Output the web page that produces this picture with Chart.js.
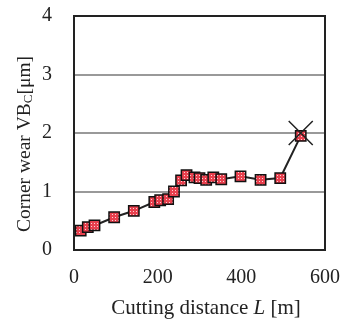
<!DOCTYPE html>
<html>
<head>
<meta charset="utf-8">
<script src="https://cdn.jsdelivr.net/npm/chart.js@4"></script>
<style>
  html, body { margin: 0; padding: 0; background: #fff; }
  #wrap { width: 340px; height: 322px; }
</style>
</head>
<body>
<div id="wrap"><canvas id="wearChart" width="340" height="322"></canvas></div>
<script>
const distances = [16, 33, 49, 96, 143, 192, 206, 225, 239, 256, 269, 288, 300, 316, 333, 352, 398, 446, 493, 542];
const wear = [0.33, 0.39, 0.42, 0.56, 0.67, 0.82, 0.85, 0.87, 1.00, 1.19, 1.28, 1.24, 1.23, 1.20, 1.24, 1.21, 1.26, 1.20, 1.23, 1.95];
const failDistance = [542];
const failWear = [2.0];
const xTicks = [0, 200, 400, 600];
const yTicks = [0, 1, 2, 3, 4];

// red / white checkered fill for the square markers
const pc = document.createElement('canvas');
pc.width = 3; pc.height = 3;
const pctx = pc.getContext('2d');
pctx.fillStyle = '#e8404e';
pctx.fillRect(0, 0, 3, 3);
pctx.fillStyle = '#fbd3d6';
pctx.fillRect(1, 1, 1, 1);
const markerFill = pctx.createPattern(pc, 'repeat');

const serif = '"Liberation Serif", "Times New Roman", serif';

const axisTitles = {
  id: 'axisTitles',
  afterDraw(chart) {
    const c = chart.ctx;
    const a = chart.chartArea;
    // frame
    c.save();
    c.strokeStyle = '#222';
    c.lineWidth = 2;
    c.strokeRect(a.left, a.top, a.right - a.left, a.bottom - a.top);
    c.restore();

    // x title with italic L
    c.save();
    c.fillStyle = '#222';
    c.textBaseline = 'middle';
    const parts = [['Cutting distance ', '21px ' + serif], ['L', 'italic 21px ' + serif], [' [m]', '21px ' + serif]];
    let total = 0;
    parts.forEach(p => { c.font = p[1]; total += c.measureText(p[0]).width; });
    let x = 206 - total / 2;
    parts.forEach(p => { c.font = p[1]; c.fillText(p[0], x, 308); x += c.measureText(p[0]).width; });
    c.restore();

    // y title with subscript C
    c.save();
    c.translate(25, 144);
    c.rotate(-Math.PI / 2);
    c.fillStyle = '#222';
    c.textBaseline = 'middle';
    const yParts = [['Corner wear VB', '19.5px ' + serif, 0], ['C', '13px ' + serif, 4], ['[\u03bcm]', '19.5px ' + serif, 0]];
    total = 0;
    yParts.forEach(p => { c.font = p[1]; total += c.measureText(p[0]).width; });
    x = -total / 2;
    yParts.forEach(p => { c.font = p[1]; c.fillText(p[0], x, p[2]); x += c.measureText(p[0]).width; });
    c.restore();
  }
};

function noPad(s) {
  s.paddingTop = 0; s.paddingBottom = 0; s.paddingLeft = 0; s.paddingRight = 0;
}

new Chart(document.getElementById('wearChart'), {
  type: 'scatter',
  data: {
    datasets: [{
      data: failDistance.map((v, i) => ({ x: v, y: failWear[i] })),
      pointStyle: 'crossRot',
      pointRadius: 17,
      borderColor: '#222',
      borderWidth: 1.5,
      showLine: false,
      order: 0
    }, {
      data: distances.map((v, i) => ({ x: v, y: wear[i] })),
      showLine: true,
      borderColor: '#222',
      borderWidth: 2,
      pointStyle: 'rect',
      pointRadius: 7.3,
      pointBackgroundColor: markerFill,
      pointBorderColor: '#111',
      pointBorderWidth: 1.5,
      order: 1
    }]
  },
  options: {
    responsive: false,
    animation: false,
    layout: { autoPadding: false, padding: { left: 0, right: 15, top: 16, bottom: 0 } },
    plugins: { legend: { display: false }, tooltip: { enabled: false } },
    scales: {
      x: {
        type: 'linear', min: 0, max: 600,
        afterBuildTicks: s => { s.ticks = xTicks.map(v => ({ value: v })); },
        afterFit: s => { s.height = 72; noPad(s); },
        grid: { display: false, drawTicks: false },
        border: { display: false },
        ticks: { color: '#222', padding: 16, maxRotation: 0, font: { family: serif, size: 20 } }
      },
      y: {
        min: 0, max: 4,
        afterBuildTicks: s => { s.ticks = yTicks.map(v => ({ value: v })); },
        afterFit: s => { s.width = 74; noPad(s); },
        grid: { color: '#999', lineWidth: 2, drawTicks: false },
        border: { display: false },
        ticks: { color: '#222', padding: 22, font: { family: serif, size: 20 } }
      }
    }
  },
  plugins: [axisTitles]
});
</script>
</body>
</html>
